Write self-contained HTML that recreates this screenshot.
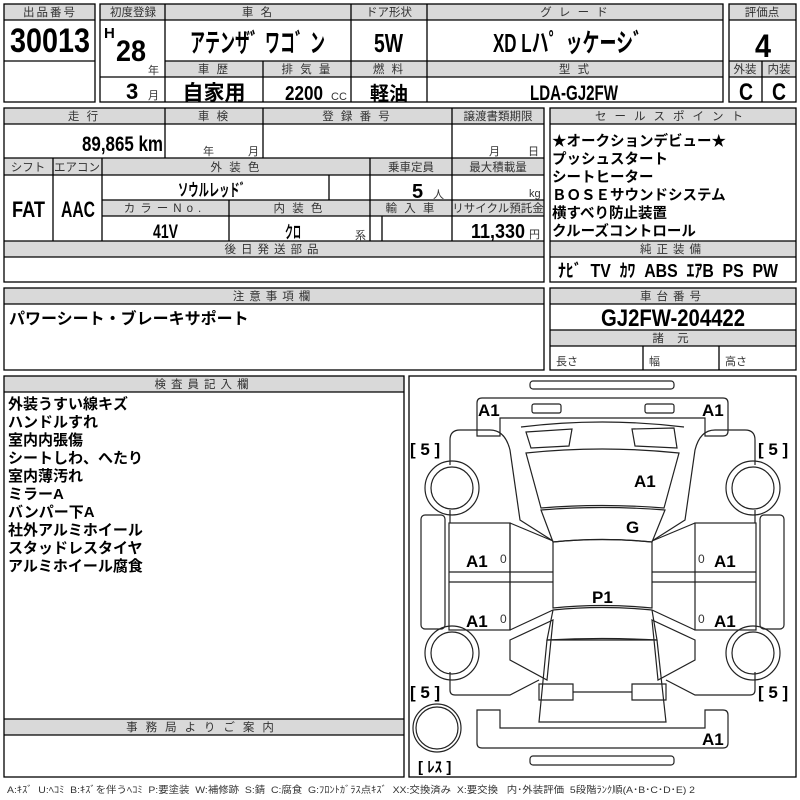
<!DOCTYPE html>
<html><head><meta charset="utf-8">
<style>
body{margin:0;background:#fff;}
svg{display:block;}
text{font-family:"Liberation Sans","Noto Sans CJK JP",sans-serif;}
.h{font-size:11.5px;fill:#333;text-anchor:middle;letter-spacing:2px;}
.b{font-family:"Liberation Sans","Noto Sans CJK JP",sans-serif;font-weight:bold;fill:#000;}
.j{font-family:"Noto Sans CJK JP",sans-serif;font-weight:bold;fill:#000;}
.m{text-anchor:middle;}
.s{font-size:11px;fill:#333;}
</style></head><body>
<svg width="800" height="800" viewBox="0 0 800 800" xmlns="http://www.w3.org/2000/svg">
<g fill="#d9d9d9" stroke="none">
<rect x="4" y="4" width="91" height="16"/>
<rect x="100" y="4" width="623" height="16"/>
<rect x="165" y="61" width="558" height="16"/>
<rect x="729" y="4" width="67" height="16"/>
<rect x="729" y="61" width="67" height="16"/>
<rect x="4" y="108" width="540" height="16"/>
<rect x="4" y="158" width="540" height="17"/>
<rect x="102" y="200" width="442" height="16"/>
<rect x="4" y="241" width="540" height="16"/>
<rect x="550" y="108" width="246" height="16"/>
<rect x="550" y="241" width="246" height="16"/>
<rect x="4" y="288" width="540" height="16"/>
<rect x="550" y="288" width="246" height="16"/>
<rect x="550" y="330" width="246" height="16"/>
<rect x="4" y="376" width="400" height="16"/>
<rect x="4" y="719" width="400" height="16"/>
</g>
<g fill="none" stroke="#000" stroke-width="1.3">
<rect x="4" y="4" width="91" height="98"/>
<line x1="4" y1="20" x2="95" y2="20"/><line x1="4" y1="61" x2="95" y2="61"/>
<rect x="100" y="4" width="623" height="98"/>
<line x1="100" y1="20" x2="723" y2="20"/>
<line x1="165" y1="61" x2="723" y2="61"/><line x1="165" y1="77" x2="723" y2="77"/>
<line x1="100" y1="77" x2="165" y2="77"/>
<line x1="165" y1="4" x2="165" y2="102"/><line x1="351" y1="4" x2="351" y2="102"/>
<line x1="427" y1="4" x2="427" y2="102"/><line x1="263" y1="61" x2="263" y2="102"/>
<rect x="729" y="4" width="67" height="98"/>
<line x1="729" y1="20" x2="796" y2="20"/><line x1="729" y1="61" x2="796" y2="61"/><line x1="729" y1="77" x2="796" y2="77"/>
<line x1="762" y1="61" x2="762" y2="102"/>
<rect x="4" y="108" width="540" height="174"/>
<line x1="4" y1="124" x2="544" y2="124"/><line x1="4" y1="158" x2="544" y2="158"/>
<line x1="4" y1="175" x2="544" y2="175"/><line x1="102" y1="200" x2="544" y2="200"/>
<line x1="102" y1="216" x2="544" y2="216"/><line x1="4" y1="241" x2="544" y2="241"/>
<line x1="4" y1="257" x2="544" y2="257"/>
<line x1="165" y1="108" x2="165" y2="158"/><line x1="263" y1="108" x2="263" y2="158"/>
<line x1="452" y1="108" x2="452" y2="241"/>
<line x1="53" y1="158" x2="53" y2="241"/><line x1="102" y1="158" x2="102" y2="241"/>
<line x1="370" y1="158" x2="370" y2="241"/><line x1="329" y1="175" x2="329" y2="200"/>
<line x1="229" y1="200" x2="229" y2="241"/><line x1="382" y1="216" x2="382" y2="241"/>
<rect x="550" y="108" width="246" height="174"/>
<line x1="550" y1="124" x2="796" y2="124"/><line x1="550" y1="241" x2="796" y2="241"/><line x1="550" y1="257" x2="796" y2="257"/>
<rect x="4" y="288" width="540" height="82"/><line x1="4" y1="304" x2="544" y2="304"/>
<rect x="550" y="288" width="246" height="82"/>
<line x1="550" y1="304" x2="796" y2="304"/><line x1="550" y1="330" x2="796" y2="330"/><line x1="550" y1="346" x2="796" y2="346"/>
<line x1="643" y1="346" x2="643" y2="370"/><line x1="719" y1="346" x2="719" y2="370"/>
<rect x="4" y="376" width="400" height="401"/>
<line x1="4" y1="392" x2="404" y2="392"/><line x1="4" y1="719" x2="404" y2="719"/><line x1="4" y1="735" x2="404" y2="735"/>
<rect x="409" y="376" width="387" height="401"/>
</g>
<!-- headers -->
<text class="h" x="50" y="16">出品番号</text>
<text class="h" x="133" y="16" style="letter-spacing:0">初度登録</text>
<text class="h" x="258" y="16">車 名</text>
<text class="h" x="389" y="16" style="letter-spacing:0">ドア形状</text>
<text class="h" x="575" y="16">グ レ ー ド</text>
<text class="h" x="762" y="16" style="letter-spacing:0">評価点</text>
<text class="h" x="214" y="73">車 歴</text>
<text class="h" x="307" y="73">排 気 量</text>
<text class="h" x="389" y="73">燃 料</text>
<text class="h" x="575" y="73">型 式</text>
<text class="h" x="745" y="73" style="letter-spacing:0">外装</text>
<text class="h" x="779" y="73" style="letter-spacing:0">内装</text>
<text class="h" x="84" y="120">走 行</text>
<text class="h" x="214" y="120">車 検</text>
<text class="h" x="357" y="120">登 録 番 号</text>
<text class="h" x="498" y="120" style="letter-spacing:0">譲渡書類期限</text>
<text class="h" x="28" y="171" style="letter-spacing:0">シフト</text>
<text class="h" x="77" y="171" style="letter-spacing:0">エアコン</text>
<text class="h" x="236" y="171">外 装 色</text>
<text class="h" x="411" y="171" style="letter-spacing:0">乗車定員</text>
<text class="h" x="498" y="171" style="letter-spacing:0">最大積載量</text>
<text class="h" x="165" y="212" style="letter-spacing:5px">カラーNo.</text>
<text class="h" x="299" y="212">内 装 色</text>
<text class="h" x="411" y="212">輸 入 車</text>
<text class="h" x="498" y="212" style="letter-spacing:0">リサイクル預託金</text>
<text class="h" x="274" y="253" style="letter-spacing:5px">後日発送部品</text>
<text class="h" x="673" y="120" style="letter-spacing:8px">セールスポイント</text>
<text class="h" x="673" y="253" style="letter-spacing:5px">純正装備</text>
<text class="h" x="274" y="300" style="letter-spacing:5px">注意事項欄</text>
<text class="h" x="673" y="300" style="letter-spacing:5px">車台番号</text>
<text class="h" x="673" y="342" style="letter-spacing:5px">諸 元</text>
<text class="h" x="204" y="388" style="letter-spacing:5px">検査員記入欄</text>
<text class="h" x="204" y="731" style="letter-spacing:8px">事務局よりご案内</text>
<!-- values -->
<text class="b" x="10" y="52" font-size="34" textLength="80" lengthAdjust="spacingAndGlyphs">30013</text>
<text class="b" x="104" y="38" font-size="15">H</text>
<text class="b" x="116" y="61" font-size="30" textLength="30" lengthAdjust="spacingAndGlyphs">28</text>
<text class="s" x="148" y="74">年</text>
<text class="b" x="126" y="99" font-size="22">3</text>
<text class="s" x="148" y="99">月</text>
<text class="b" x="190" y="52" font-size="26" textLength="135" lengthAdjust="spacingAndGlyphs">アテンザ゛ワコ゛ン</text>
<text class="b" x="374" y="52" font-size="26" textLength="29" lengthAdjust="spacingAndGlyphs">5W</text>
<text class="b" x="493" y="52" font-size="26" textLength="157" lengthAdjust="spacingAndGlyphs">XD Lハ゜ッケーシ゛</text>
<text class="b m" x="763" y="57" font-size="32" textLength="16" lengthAdjust="spacingAndGlyphs">4</text>
<text class="j m" x="214" y="100" font-size="21">自家用</text>
<text class="b" x="285" y="100" font-size="20" textLength="38" lengthAdjust="spacingAndGlyphs">2200</text>
<text class="s" x="331" y="100">CC</text>
<text class="j m" x="389" y="100" font-size="19">軽油</text>
<text class="b" x="530" y="100" font-size="21" textLength="88" lengthAdjust="spacingAndGlyphs">LDA-GJ2FW</text>
<text class="b" x="739" y="100" font-size="24" textLength="14" lengthAdjust="spacingAndGlyphs">C</text>
<text class="b" x="772" y="100" font-size="24" textLength="14" lengthAdjust="spacingAndGlyphs">C</text>
<text class="b" x="82" y="151" font-size="21" textLength="81" lengthAdjust="spacingAndGlyphs">89,865 km</text>
<text class="s" x="203" y="155">年</text><text class="s" x="248" y="155">月</text>
<text class="s" x="489" y="155">月</text><text class="s" x="528" y="155">日</text>
<text class="b" x="12" y="217" font-size="22" textLength="33" lengthAdjust="spacingAndGlyphs">FAT</text>
<text class="b" x="61" y="217" font-size="22" textLength="34" lengthAdjust="spacingAndGlyphs">AAC</text>
<text class="b" x="178" y="196" font-size="17" textLength="72" lengthAdjust="spacingAndGlyphs">ソウルレッド゛</text>
<text class="b" x="412" y="198" font-size="20">5</text><text class="s" x="433" y="198">人</text>
<text class="s" x="529" y="197">kg</text>
<text class="b" x="153" y="238" font-size="19" textLength="25" lengthAdjust="spacingAndGlyphs">41V</text>
<text class="b" x="285" y="238" font-size="17" textLength="16" lengthAdjust="spacingAndGlyphs">クロ</text>
<text class="s" x="355" y="239">系</text>
<text class="b" x="471" y="238" font-size="20" textLength="54" lengthAdjust="spacingAndGlyphs">11,330</text><text class="s" x="529" y="238">円</text>
<g class="j" font-size="14.5">
<text x="552" y="146">★オークションデビュー★</text>
<text x="552" y="164">プッシュスタート</text>
<text x="552" y="182">シートヒーター</text>
<text x="552" y="200">ＢＯＳＥサウンドシステム</text>
<text x="552" y="218">横すべり防止装置</text>
<text x="552" y="236">クルーズコントロール</text>
</g>
<text class="b" x="558" y="277" font-size="18" xml:space="preserve" textLength="220" lengthAdjust="spacingAndGlyphs">ﾅﾋﾞ  TV  ｶﾜ  ABS  ｴｱB  PS  PW</text>
<text class="j" x="9" y="324" font-size="16">パワーシート・ブレーキサポート</text>
<text class="b" x="601" y="326" font-size="24" textLength="144" lengthAdjust="spacingAndGlyphs">GJ2FW-204422</text>
<text class="s" x="556" y="365" font-size="12">長さ</text>
<text class="s" x="649" y="365" font-size="12">幅</text>
<text class="s" x="725" y="365" font-size="12">高さ</text>
<g class="j" font-size="15">
<text x="8" y="409">外装うすい線キズ</text>
<text x="8" y="427">ハンドルすれ</text>
<text x="8" y="445">室内内張傷</text>
<text x="8" y="463">シートしわ、へたり</text>
<text x="8" y="481">室内薄汚れ</text>
<text x="8" y="499">ミラーA</text>
<text x="8" y="517">バンパー下A</text>
<text x="8" y="535">社外アルミホイール</text>
<text x="8" y="553">スタッドレスタイヤ</text>
<text x="8" y="571">アルミホイール腐食</text>
</g>
<text x="7" y="793" font-size="9.5" fill="#333" xml:space="preserve" textLength="688" lengthAdjust="spacingAndGlyphs">A:ｷｽﾞ  U:ﾍｺﾐ  B:ｷｽﾞを伴うﾍｺﾐ  P:要塗装  W:補修跡  S:錆  C:腐食  G:ﾌﾛﾝﾄｶﾞﾗｽ点ｷｽﾞ  XX:交換済み  X:要交換   内･外装評価  5段階ﾗﾝｸ順(A･B･C･D･E) 2</text>
<!-- car diagram -->
<g fill="none" stroke="#222" stroke-width="1.2">
<rect x="530" y="381" width="144" height="8" rx="3"/>
<rect x="530" y="756" width="144" height="9" rx="3"/>
<path d="M477,436 V403 q0,-5 5,-5 H723 q5,0 5,5 V431 q0,5 -5,5 H705 V418 H500 V436 Z"/>
<path d="M477,710 V743 q0,5 5,5 H723 q5,0 5,-5 V715 q0,-5 -5,-5 H705 V728 H500 V710 Z"/>
<rect x="532" y="404" width="29" height="9" rx="2"/><rect x="645" y="404" width="29" height="9" rx="2"/>
<path d="M521,427 Q602,417 684,427"/>
<path d="M526,432 L572,429 L569,446 L531,448 Z"/>
<path d="M674,428 L632,429 L635,446 L677,448 Z"/>
<path d="M526,453 Q602,445 679,453 L664,508 Q602,503 541,508 Z"/>
<path d="M541,510 Q602,505 665,510 L652,542 Q602,537 553,542 Z"/>
<path d="M553,542 Q602,537 652,542 L652,608 Q602,603 553,608 Z"/>
<path d="M553,610 Q602,605 652,610 L657,640 Q602,637 547,640 Z"/>
<path d="M547,640 L657,640 L666,722 L539,722 Z"/>
<path d="M539,684 H573 V700 H539 Z"/><path d="M632,684 H666 V700 H632 Z"/>
<line x1="573" y1="692" x2="632" y2="692"/>
<path d="M450,440 q0,-10 10,-10 H490 q15,0 20,20 L520,520 L553,541"/>
<path d="M450,440 V465"/>
<path d="M450,510 V523"/>
<path d="M510,523 L553,541"/>
<rect x="449" y="523" width="61" height="107"/>
<line x1="449" y1="572" x2="553" y2="572"/><line x1="449" y1="582" x2="553" y2="582"/>
<line x1="510" y1="523" x2="510" y2="630"/>
<path d="M510,630 L553,610"/>
<rect x="421" y="515" width="24" height="114" rx="4"/>
<path d="M510,640 L553,620 L547,680 L510,660 Z"/>
<path d="M450,672 V690 q0,5 5,5 H510 L539,680"/>
<circle cx="452" cy="488" r="27"/><circle cx="452" cy="488" r="21"/>
<circle cx="452" cy="653" r="27"/><circle cx="452" cy="653" r="21"/>
<circle cx="437" cy="728" r="24"/><circle cx="437" cy="728" r="21"/>
<path d="M755,440 q0,-10 -10,-10 H715 q-15,0 -20,20 L685,520 L652,541"/>
<path d="M755,440 V465"/><path d="M755,510 V523"/>
<path d="M695,523 L652,541"/>
<rect x="695" y="523" width="61" height="107"/>
<line x1="652" y1="572" x2="756" y2="572"/><line x1="652" y1="582" x2="756" y2="582"/>
<path d="M695,630 L652,610"/>
<rect x="760" y="515" width="24" height="114" rx="4"/>
<path d="M695,640 L652,620 L658,680 L695,660 Z"/>
<path d="M755,672 V690 q0,5 -5,5 H695 L666,680"/>
<circle cx="753" cy="488" r="27"/><circle cx="753" cy="488" r="21"/>
<circle cx="753" cy="653" r="27"/><circle cx="753" cy="653" r="21"/>
</g>
<g class="b" font-size="17">
<text x="478" y="416">A1</text><text x="702" y="416">A1</text>
<text x="634" y="487">A1</text><text x="626" y="533">G</text>
<text x="466" y="567">A1</text><text x="714" y="567">A1</text>
<text x="466" y="627">A1</text><text x="714" y="627">A1</text>
<text x="592" y="603">P1</text>
<text x="702" y="745">A1</text>
<text x="410" y="455" xml:space="preserve">[ 5 ]</text><text x="758" y="455" xml:space="preserve">[ 5 ]</text>
<text x="410" y="698" xml:space="preserve">[ 5 ]</text><text x="758" y="698" xml:space="preserve">[ 5 ]</text>
<text x="418" y="772" font-size="15">[ ﾚｽ ]</text>
</g>
<g font-size="12" fill="#333">
<text x="500" y="563">0</text><text x="698" y="563">0</text>
<text x="500" y="623">0</text><text x="698" y="623">0</text>
</g>
</svg>
</body></html>
